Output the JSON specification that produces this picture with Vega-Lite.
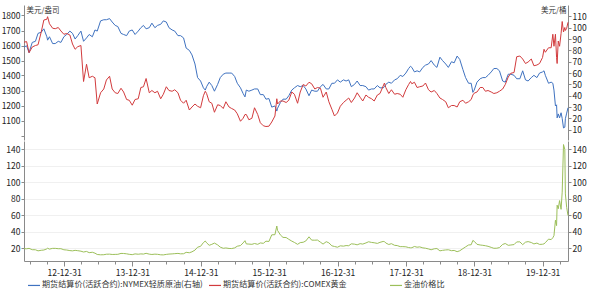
{
  "$schema": "https://vega.github.io/schema/vega-lite/v6.json",
  "background": "white",
  "padding": {"left": 1, "top": 5, "right": 5, "bottom": 2},
  "config": {
    "font": "Noto Sans CJK SC",
    "view": {"stroke": null},
    "axis": {"domainColor": "#8a8a8a", "tickColor": "#8a8a8a", "labelColor": "#222", "labelFontSize": 8.5, "tickSize": 3, "labelPadding": 1, "grid": false, "titleFontWeight": "normal", "titleColor": "#333", "titleFontSize": 7.5}
  },
  "data": {"values": [
    {"d":"2012-06-01","g":1622,"o":83,"r":19.5},
    {"d":"2012-06-15","g":1626,"o":84,"r":19.4},
    {"d":"2012-06-28","g":1552,"o":78,"r":19.9},
    {"d":"2012-07-15","g":1590,"o":87,"r":18.3},
    {"d":"2012-08-01","g":1600,"o":88,"r":18.2},
    {"d":"2012-08-15","g":1605,"o":95,"r":16.9},
    {"d":"2012-09-01","g":1690,"o":96,"r":17.6},
    {"d":"2012-09-15","g":1770,"o":99,"r":17.9},
    {"d":"2012-10-01","g":1775,"o":92,"r":19.3},
    {"d":"2012-10-05","g":1792,"o":89,"r":20.1},
    {"d":"2012-10-15","g":1745,"o":92,"r":19.0},
    {"d":"2012-11-01","g":1715,"o":86,"r":19.9},
    {"d":"2012-11-15","g":1712,"o":86,"r":19.9},
    {"d":"2012-12-01","g":1720,"o":88,"r":19.5},
    {"d":"2012-12-15","g":1697,"o":87,"r":19.5},
    {"d":"2012-12-31","g":1675,"o":92,"r":18.2},
    {"d":"2013-01-15","g":1680,"o":94,"r":17.9},
    {"d":"2013-02-01","g":1670,"o":97,"r":17.2},
    {"d":"2013-02-15","g":1610,"o":95,"r":16.9},
    {"d":"2013-03-01","g":1575,"o":90,"r":17.5},
    {"d":"2013-03-15","g":1592,"o":93,"r":17.1},
    {"d":"2013-04-01","g":1600,"o":97,"r":16.5},
    {"d":"2013-04-15","g":1360,"o":88,"r":15.5},
    {"d":"2013-05-01","g":1475,"o":91,"r":16.2},
    {"d":"2013-05-15","g":1385,"o":94,"r":14.7},
    {"d":"2013-06-01","g":1395,"o":92,"r":15.2},
    {"d":"2013-06-15","g":1385,"o":98,"r":14.1},
    {"d":"2013-06-27","g":1210,"o":97,"r":12.5},
    {"d":"2013-07-15","g":1285,"o":106,"r":12.1},
    {"d":"2013-08-01","g":1310,"o":107,"r":12.2},
    {"d":"2013-08-15","g":1370,"o":107,"r":12.8},
    {"d":"2013-09-01","g":1395,"o":108,"r":12.9},
    {"d":"2013-09-15","g":1310,"o":105,"r":12.5},
    {"d":"2013-10-01","g":1285,"o":102,"r":12.6},
    {"d":"2013-10-15","g":1280,"o":101,"r":12.7},
    {"d":"2013-11-01","g":1315,"o":95,"r":13.8},
    {"d":"2013-11-15","g":1290,"o":94,"r":13.7},
    {"d":"2013-12-01","g":1240,"o":93,"r":13.3},
    {"d":"2013-12-15","g":1235,"o":97,"r":12.7},
    {"d":"2013-12-31","g":1202,"o":98,"r":12.3},
    {"d":"2014-01-15","g":1240,"o":94,"r":13.2},
    {"d":"2014-02-01","g":1245,"o":97,"r":12.8},
    {"d":"2014-02-15","g":1320,"o":100,"r":13.2},
    {"d":"2014-03-01","g":1325,"o":102,"r":13.0},
    {"d":"2014-03-15","g":1380,"o":99,"r":13.9},
    {"d":"2014-04-01","g":1285,"o":100,"r":12.9},
    {"d":"2014-04-15","g":1300,"o":104,"r":12.5},
    {"d":"2014-05-01","g":1285,"o":100,"r":12.9},
    {"d":"2014-05-15","g":1295,"o":102,"r":12.7},
    {"d":"2014-06-01","g":1245,"o":103,"r":12.1},
    {"d":"2014-06-15","g":1275,"o":106,"r":12.0},
    {"d":"2014-07-01","g":1325,"o":105,"r":12.6},
    {"d":"2014-07-15","g":1300,"o":100,"r":13.0},
    {"d":"2014-08-01","g":1295,"o":98,"r":13.2},
    {"d":"2014-08-15","g":1305,"o":97,"r":13.5},
    {"d":"2014-09-01","g":1285,"o":93,"r":13.8},
    {"d":"2014-09-15","g":1235,"o":93,"r":13.3},
    {"d":"2014-10-01","g":1215,"o":91,"r":13.4},
    {"d":"2014-10-15","g":1235,"o":82,"r":15.1},
    {"d":"2014-11-01","g":1170,"o":80,"r":14.6},
    {"d":"2014-11-15","g":1190,"o":76,"r":15.7},
    {"d":"2014-12-01","g":1210,"o":68,"r":17.8},
    {"d":"2014-12-15","g":1195,"o":56,"r":21.3},
    {"d":"2014-12-31","g":1185,"o":53,"r":22.4},
    {"d":"2015-01-15","g":1265,"o":47,"r":26.9},
    {"d":"2015-01-25","g":1295,"o":45,"r":28.8},
    {"d":"2015-02-01","g":1280,"o":48,"r":26.7},
    {"d":"2015-02-15","g":1225,"o":52,"r":23.6},
    {"d":"2015-03-01","g":1215,"o":49,"r":24.8},
    {"d":"2015-03-15","g":1155,"o":44,"r":26.3},
    {"d":"2015-04-01","g":1205,"o":50,"r":24.1},
    {"d":"2015-04-15","g":1200,"o":56,"r":21.4},
    {"d":"2015-05-01","g":1180,"o":59,"r":20.0},
    {"d":"2015-05-15","g":1225,"o":60,"r":20.4},
    {"d":"2015-06-01","g":1190,"o":60,"r":19.8},
    {"d":"2015-06-15","g":1180,"o":60,"r":19.7},
    {"d":"2015-07-01","g":1170,"o":57,"r":20.5},
    {"d":"2015-07-15","g":1145,"o":51,"r":22.5},
    {"d":"2015-08-01","g":1095,"o":47,"r":23.3},
    {"d":"2015-08-15","g":1115,"o":42,"r":26.5},
    {"d":"2015-08-25","g":1140,"o":39,"r":29.2},
    {"d":"2015-09-01","g":1140,"o":45,"r":25.3},
    {"d":"2015-09-15","g":1105,"o":44,"r":25.1},
    {"d":"2015-10-01","g":1115,"o":45,"r":24.8},
    {"d":"2015-10-15","g":1185,"o":46,"r":25.8},
    {"d":"2015-11-01","g":1140,"o":46,"r":24.8},
    {"d":"2015-11-15","g":1085,"o":41,"r":26.5},
    {"d":"2015-12-01","g":1065,"o":41,"r":26.0},
    {"d":"2015-12-15","g":1060,"o":37,"r":28.6},
    {"d":"2015-12-31","g":1062,"o":37.5,"r":28.3},
    {"d":"2016-01-15","g":1090,"o":30,"r":36.3},
    {"d":"2016-02-01","g":1130,"o":31,"r":36.5},
    {"d":"2016-02-11","g":1245,"o":26.5,"r":47.0},
    {"d":"2016-02-15","g":1210,"o":29,"r":41.7},
    {"d":"2016-03-01","g":1230,"o":34,"r":36.2},
    {"d":"2016-03-15","g":1230,"o":37,"r":33.2},
    {"d":"2016-04-01","g":1220,"o":37,"r":33.0},
    {"d":"2016-04-15","g":1235,"o":40,"r":30.9},
    {"d":"2016-05-01","g":1290,"o":45,"r":28.7},
    {"d":"2016-05-15","g":1275,"o":47,"r":27.1},
    {"d":"2016-06-01","g":1215,"o":49,"r":24.8},
    {"d":"2016-06-15","g":1290,"o":48,"r":26.9},
    {"d":"2016-07-01","g":1340,"o":49,"r":27.3},
    {"d":"2016-07-15","g":1330,"o":46,"r":28.9},
    {"d":"2016-08-01","g":1355,"o":40,"r":33.9},
    {"d":"2016-08-15","g":1345,"o":45,"r":29.9},
    {"d":"2016-09-01","g":1310,"o":44,"r":29.8},
    {"d":"2016-09-15","g":1320,"o":44,"r":30.0},
    {"d":"2016-10-01","g":1315,"o":48,"r":27.4},
    {"d":"2016-10-15","g":1255,"o":50,"r":25.1},
    {"d":"2016-11-01","g":1290,"o":46,"r":28.0},
    {"d":"2016-11-15","g":1225,"o":46,"r":26.6},
    {"d":"2016-12-01","g":1175,"o":51,"r":23.0},
    {"d":"2016-12-15","g":1130,"o":51,"r":22.2},
    {"d":"2016-12-31","g":1150,"o":54,"r":21.3},
    {"d":"2017-01-15","g":1195,"o":52,"r":23.0},
    {"d":"2017-02-01","g":1220,"o":54,"r":22.6},
    {"d":"2017-02-15","g":1235,"o":53,"r":23.3},
    {"d":"2017-03-01","g":1250,"o":54,"r":23.1},
    {"d":"2017-03-15","g":1220,"o":48,"r":25.4},
    {"d":"2017-04-01","g":1250,"o":50,"r":25.0},
    {"d":"2017-04-15","g":1285,"o":53,"r":24.2},
    {"d":"2017-05-01","g":1255,"o":49,"r":25.6},
    {"d":"2017-05-15","g":1230,"o":49,"r":25.1},
    {"d":"2017-06-01","g":1270,"o":48,"r":26.5},
    {"d":"2017-06-15","g":1255,"o":45,"r":27.9},
    {"d":"2017-07-01","g":1245,"o":46,"r":27.1},
    {"d":"2017-07-15","g":1230,"o":46,"r":26.7},
    {"d":"2017-08-01","g":1270,"o":49,"r":25.9},
    {"d":"2017-08-15","g":1280,"o":47,"r":27.2},
    {"d":"2017-09-01","g":1330,"o":47,"r":28.3},
    {"d":"2017-09-08","g":1350,"o":48,"r":28.1},
    {"d":"2017-09-15","g":1320,"o":50,"r":26.4},
    {"d":"2017-10-01","g":1280,"o":52,"r":24.6},
    {"d":"2017-10-15","g":1305,"o":51,"r":25.6},
    {"d":"2017-11-01","g":1275,"o":54,"r":23.6},
    {"d":"2017-11-15","g":1280,"o":55,"r":23.3},
    {"d":"2017-12-01","g":1275,"o":58,"r":22.0},
    {"d":"2017-12-15","g":1255,"o":57,"r":22.0},
    {"d":"2017-12-31","g":1305,"o":60,"r":21.8},
    {"d":"2018-01-15","g":1340,"o":64,"r":20.9},
    {"d":"2018-01-25","g":1360,"o":66,"r":20.6},
    {"d":"2018-02-01","g":1345,"o":65,"r":20.7},
    {"d":"2018-02-15","g":1355,"o":61,"r":22.2},
    {"d":"2018-03-01","g":1320,"o":62,"r":21.3},
    {"d":"2018-03-15","g":1325,"o":61,"r":21.7},
    {"d":"2018-04-01","g":1330,"o":65,"r":20.5},
    {"d":"2018-04-15","g":1350,"o":67,"r":20.1},
    {"d":"2018-05-01","g":1305,"o":68,"r":19.2},
    {"d":"2018-05-15","g":1290,"o":71,"r":18.2},
    {"d":"2018-06-01","g":1300,"o":67,"r":19.4},
    {"d":"2018-06-15","g":1280,"o":65,"r":19.7},
    {"d":"2018-07-01","g":1250,"o":74,"r":16.9},
    {"d":"2018-07-15","g":1240,"o":71,"r":17.5},
    {"d":"2018-08-01","g":1225,"o":68,"r":18.0},
    {"d":"2018-08-15","g":1185,"o":65,"r":18.2},
    {"d":"2018-09-01","g":1200,"o":70,"r":17.1},
    {"d":"2018-09-15","g":1200,"o":69,"r":17.4},
    {"d":"2018-10-01","g":1190,"o":75,"r":15.9},
    {"d":"2018-10-15","g":1225,"o":72,"r":17.0},
    {"d":"2018-11-01","g":1235,"o":63,"r":19.6},
    {"d":"2018-11-15","g":1215,"o":56,"r":21.7},
    {"d":"2018-12-01","g":1225,"o":51,"r":24.0},
    {"d":"2018-12-15","g":1240,"o":51,"r":24.3},
    {"d":"2018-12-24","g":1270,"o":43,"r":29.5},
    {"d":"2018-12-31","g":1282,"o":45,"r":28.5},
    {"d":"2019-01-15","g":1290,"o":52,"r":24.8},
    {"d":"2019-02-01","g":1320,"o":55,"r":24.0},
    {"d":"2019-02-15","g":1320,"o":56,"r":23.6},
    {"d":"2019-03-01","g":1295,"o":56,"r":23.1},
    {"d":"2019-03-15","g":1300,"o":58,"r":22.4},
    {"d":"2019-04-01","g":1290,"o":61,"r":21.1},
    {"d":"2019-04-15","g":1280,"o":64,"r":20.0},
    {"d":"2019-05-01","g":1285,"o":64,"r":20.1},
    {"d":"2019-05-15","g":1295,"o":62,"r":20.9},
    {"d":"2019-06-01","g":1310,"o":53,"r":24.7},
    {"d":"2019-06-15","g":1340,"o":52,"r":25.8},
    {"d":"2019-07-01","g":1390,"o":59,"r":23.6},
    {"d":"2019-07-15","g":1415,"o":59,"r":24.0},
    {"d":"2019-08-01","g":1420,"o":58,"r":24.5},
    {"d":"2019-08-15","g":1525,"o":55,"r":27.7},
    {"d":"2019-09-01","g":1530,"o":55,"r":27.8},
    {"d":"2019-09-16","g":1510,"o":62,"r":24.4},
    {"d":"2019-10-01","g":1480,"o":54,"r":27.4},
    {"d":"2019-10-15","g":1490,"o":53,"r":28.1},
    {"d":"2019-11-01","g":1510,"o":56,"r":27.0},
    {"d":"2019-11-15","g":1465,"o":58,"r":25.3},
    {"d":"2019-12-01","g":1470,"o":56,"r":26.3},
    {"d":"2019-12-15","g":1480,"o":60,"r":24.7},
    {"d":"2019-12-31","g":1520,"o":61,"r":24.9},
    {"d":"2020-01-08","g":1575,"o":62,"r":25.4},
    {"d":"2020-01-15","g":1555,"o":58,"r":26.8},
    {"d":"2020-02-01","g":1585,"o":51,"r":31.1},
    {"d":"2020-02-15","g":1585,"o":52,"r":30.5},
    {"d":"2020-02-24","g":1675,"o":51,"r":32.8},
    {"d":"2020-03-01","g":1595,"o":45,"r":35.4},
    {"d":"2020-03-09","g":1675,"o":31,"r":54.0},
    {"d":"2020-03-15","g":1520,"o":32,"r":47.5},
    {"d":"2020-03-18","g":1480,"o":20.5,"r":72.2},
    {"d":"2020-03-24","g":1630,"o":24,"r":67.9},
    {"d":"2020-03-31","g":1595,"o":20.5,"r":77.8},
    {"d":"2020-04-08","g":1680,"o":25,"r":67.2},
    {"d":"2020-04-14","g":1760,"o":20,"r":88.0},
    {"d":"2020-04-21","g":1690,"o":11.6,"r":145.7},
    {"d":"2020-04-28","g":1720,"o":12.3,"r":139.8},
    {"d":"2020-05-01","g":1700,"o":19.8,"r":85.9},
    {"d":"2020-05-08","g":1715,"o":24.7,"r":69.4},
    {"d":"2020-05-15","g":1755,"o":29.4,"r":59.7}
  ]},
  "spacing": 1,
  "resolve": {"scale": {"x": "shared", "color": "shared"}},
  "vconcat": [
    {
      "width": 544,
      "height": 135,
      "layer": [
        {
          "mark": {"type": "line", "strokeWidth": 1},
          "encoding": {
            "x": {"field": "d", "type": "temporal", "scale": {"type": "utc", "nice": false}, "axis": null},
            "y": {"field": "o", "type": "quantitative", "scale": {"domain": [1, 120], "nice": false, "zero": false},
                  "axis": {"orient": "right", "values": [10,20,30,40,50,60,70,80,90,100,110], "format": "d", "title": "美元/桶", "titleAngle": 0, "titleAlign": "right", "titleBaseline": "middle", "titleX": -2, "titleY": 5}},
            "color": {"datum": "期货结算价(活跃合约):NYMEX轻质原油(右轴)",
                      "scale": {"domain": ["期货结算价(活跃合约):NYMEX轻质原油(右轴)", "期货结算价(活跃合约):COMEX黄金", "金油价格比"], "range": ["#3f72c0", "#d23b3d", "#9cbf5a"]},
                      "legend": {"orient": "none", "legendX": 3, "legendY": 273, "direction": "horizontal", "columns": 3, "gridAlign": "all", "columnPadding": 3, "symbolType": "stroke", "symbolSize": 144, "symbolStrokeWidth": 1.2, "labelFontSize": 8.1, "labelLimit": 400, "labelColor": "#333", "labelOffset": 1, "title": null, "padding": 0}}
          }
        },
        {
          "mark": {"type": "line", "strokeWidth": 1},
          "encoding": {
            "x": {"field": "d", "type": "temporal", "axis": null},
            "y": {"field": "g", "type": "quantitative", "scale": {"domain": [970, 1870], "nice": false, "zero": false},
                  "axis": {"orient": "left", "values": [1000,1100,1200,1300,1400,1500,1600,1700,1800], "format": "d", "labelExpr": "datum.value == 1000 ? '' : datum.label", "title": "美元/盎司", "titleAngle": 0, "titleAlign": "left", "titleBaseline": "middle", "titleX": 2, "titleY": 5}},
            "color": {"datum": "期货结算价(活跃合约):COMEX黄金"}
          }
        }
      ],
      "resolve": {"scale": {"y": "independent"}}
    },
    {
      "width": 544,
      "height": 120,
      "layer": [
        {
          "mark": {"type": "line", "strokeWidth": 1},
          "encoding": {
            "x": {"field": "d", "type": "temporal", "scale": {"type": "utc", "nice": false},
                  "axis": {"title": null,
                           "tickCount": {"interval": "month", "step": 3},
                           "labelExpr": "utcmonth(datum.value) == 0 ? utcFormat(datum.value - 86400000, '%y-%m-%d') : ''",
                           "labelOverlap": false,
                           "tickSize": {"condition": {"test": "utcmonth(datum.value) == 0", "value": 5}, "value": 3},
                           "labelPadding": 2}},
            "y": {"field": "r", "type": "quantitative", "scale": {"domain": [4.6, 150], "nice": false, "zero": false},
                  "axis": {"orient": "left", "values": [20,40,60,80,100,120,140], "title": null, "grid": true, "gridColor": "#ececec", "gridWidth": 0.8}},
            "color": {"datum": "金油价格比"}
          }
        },
        {
          "mark": {"type": "line", "strokeWidth": 1, "opacity": 0},
          "encoding": {
            "x": {"field": "d", "type": "temporal"},
            "y": {"field": "r", "type": "quantitative", "scale": {"domain": [4.6, 150], "nice": false, "zero": false},
                  "axis": {"orient": "right", "values": [20,40,60,80,100,120,140], "title": null}}
          }
        }
      ],
      "resolve": {"scale": {"y": "independent"}}
    }
  ]
}
